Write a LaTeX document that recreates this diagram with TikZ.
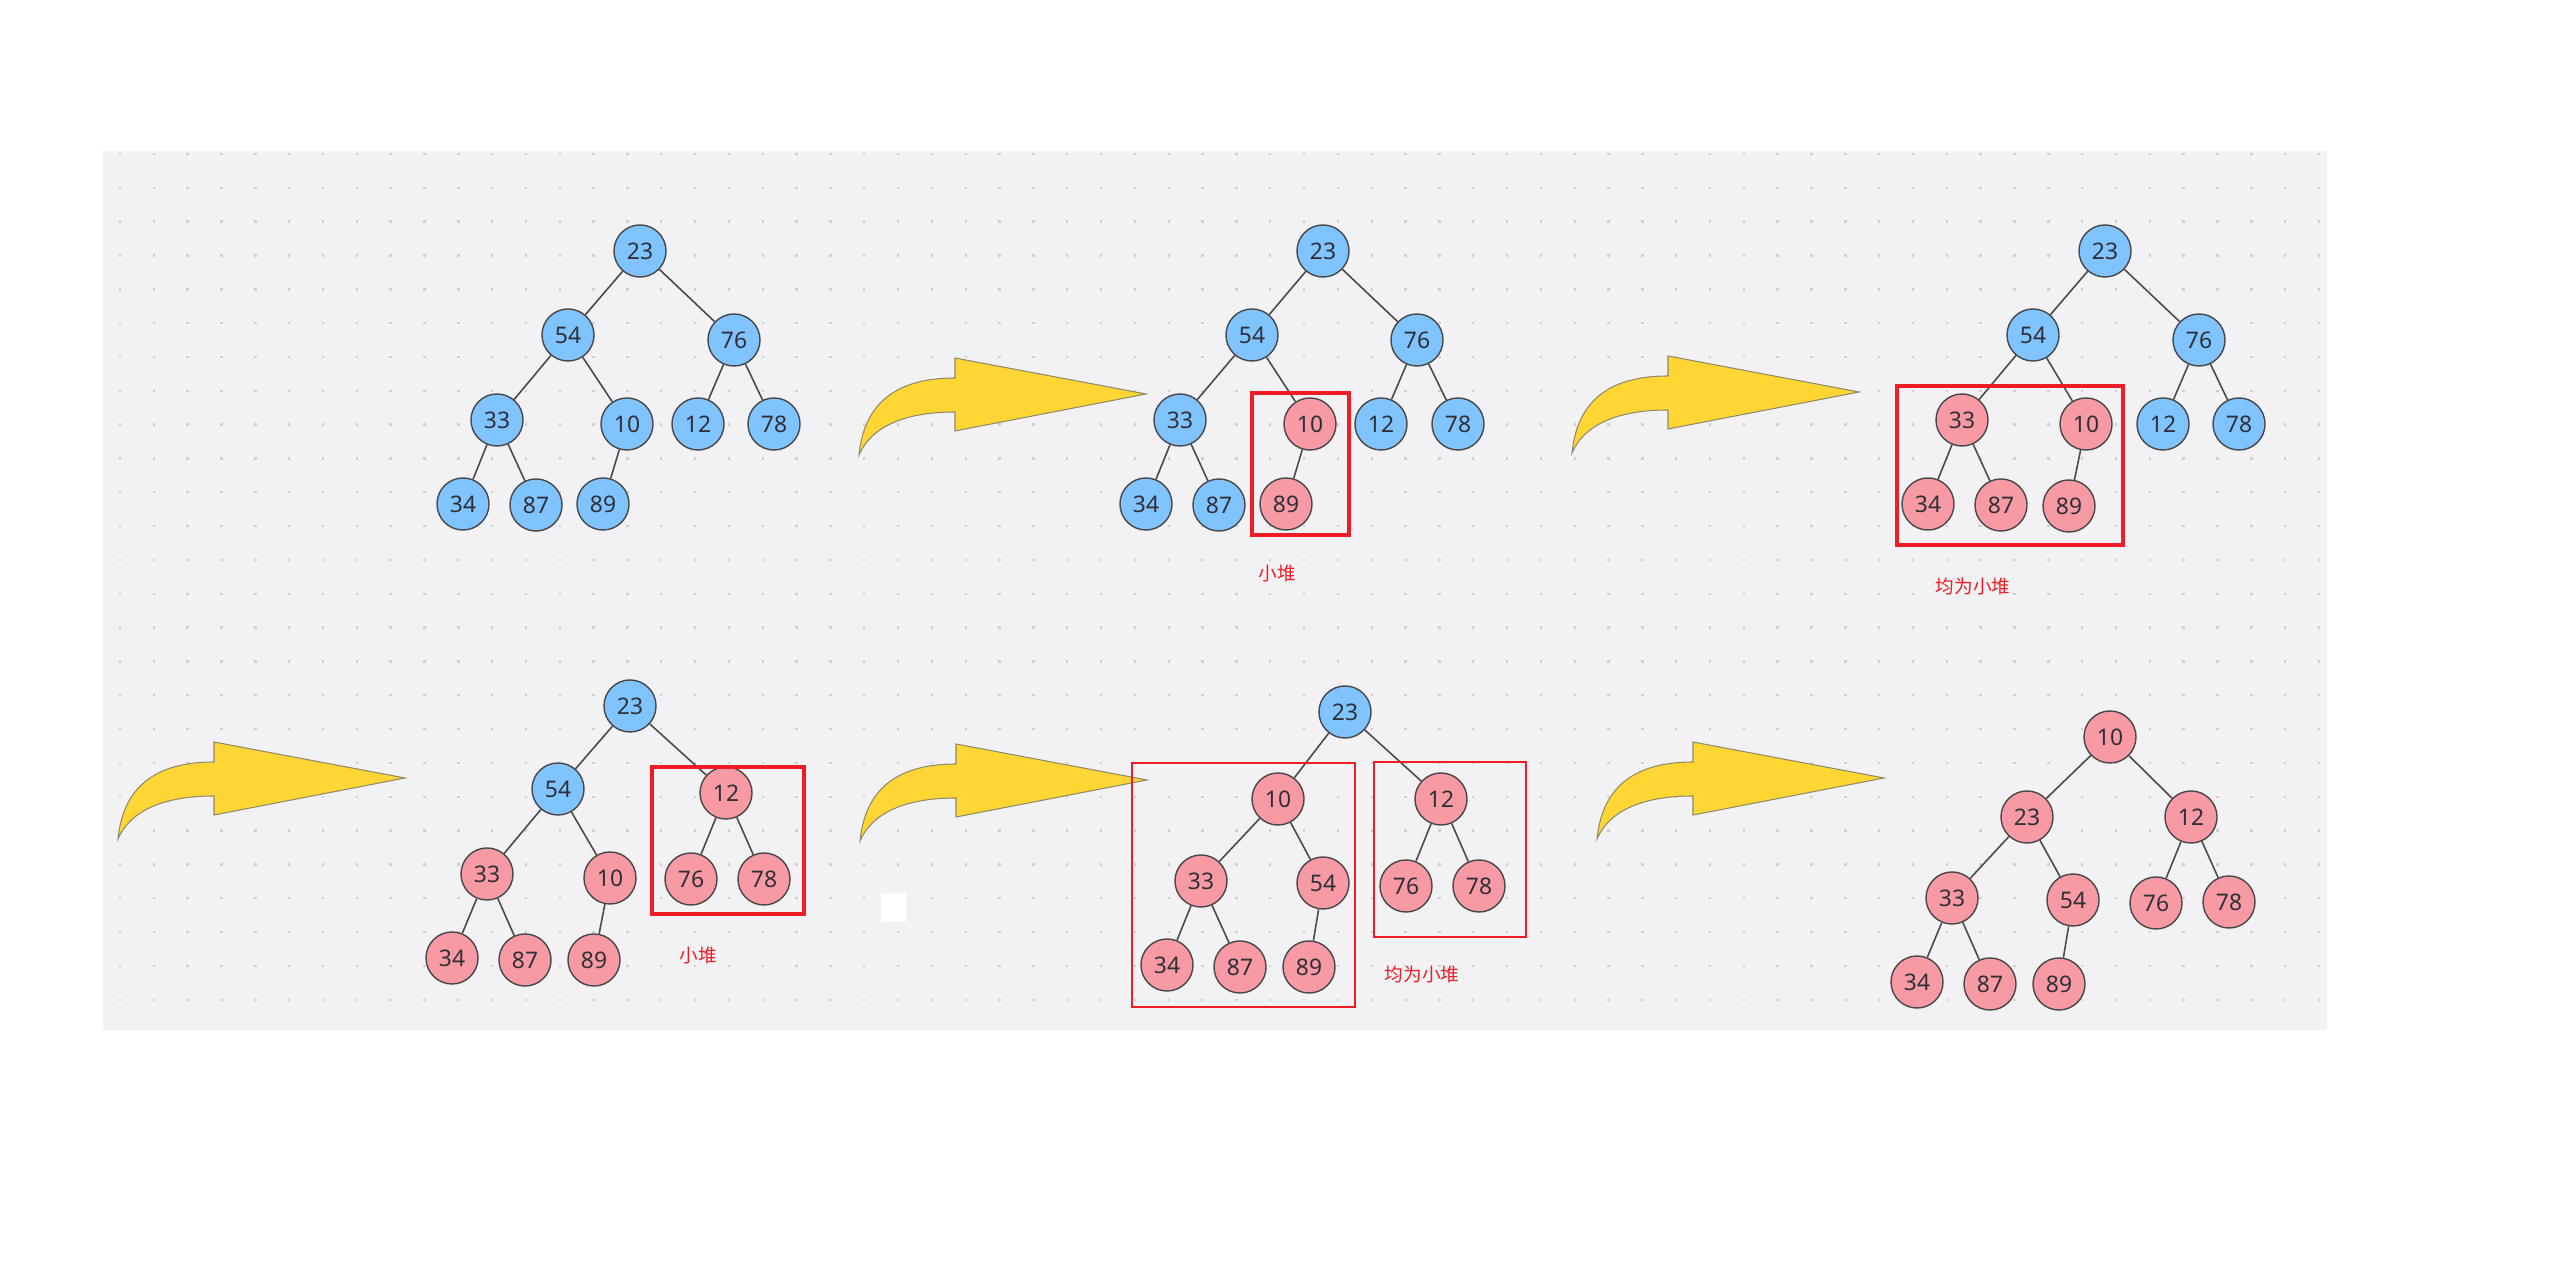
\documentclass[tikz,border=0pt]{standalone}
\usepackage{fontspec}
\setmainfont{Noto Sans}
\newfontfamily\cjk{Noto Sans CJK SC}
\usepackage{xcolor}
\definecolor{panelc}{HTML}{F2F2F4}
\definecolor{dotc}{HTML}{CFCFD2}
\definecolor{nblue}{HTML}{80C4FF}
\definecolor{npink}{HTML}{F89AA4}
\definecolor{ndraw}{HTML}{474747}
\definecolor{ntext}{HTML}{2F2F37}
\definecolor{linkc}{HTML}{4A4A4A}
\definecolor{boxred}{HTML}{EE1C25}
\definecolor{arrowy}{HTML}{FFD633}
\definecolor{arrowd}{HTML}{8F8A6A}

\begin{document}
\begin{tikzpicture}[x=0.01cm, y=-0.01cm,
    bluenode/.style={circle, draw=ndraw, fill=nblue, line width=0.4pt, minimum size=0.52cm, inner sep=0pt, text=ntext, font=\fontsize{6.5}{8}\selectfont},
    pinknode/.style={bluenode, fill=npink},
    link/.style={draw=linkc, line width=0.45pt},
    heapbox/.style={draw=boxred, line width=1.3pt},
    thinbox/.style={draw=boxred, line width=0.7pt},
    heaplabel/.style={text=boxred, font=\cjk\fontsize{5.3}{6}\selectfont, inner sep=0pt},
    bigarrow/.style={fill=arrowy, draw=arrowd, line width=0.3pt}]
  \useasboundingbox (0,0) rectangle (2560,1277);
  \fill[white] (0,0) rectangle (2560,1277);

  % dotted panel
  \fill[panelc] (103,151) rectangle (2327,1030);
  \foreach \i in {0,...,65}
    \foreach \j in {0,...,25}
      \fill[dotc] (120+\i*33.83-1.2, 154+\j*33.83-1.2) rectangle +(2.4,2.4);
  \fill[white] (881,893) rectangle (906,922);

  % yellow step arrows
  \foreach \ax/\ay in {859/455, 1572/453, 118/839, 860/841, 1597/839}
    \draw[bigarrow, shift={(\ax,\ay)}] (0,0) .. controls (5,-50) and (35,-77) .. (96,-77)
      -- (96,-97) -- (287,-61) -- (96,-24) -- (96,-43) .. controls (45,-43) and (12,-28) .. (0,0) -- cycle;

  % tree 1
  \foreach \t/\x/\y/\s in {23/640/251/bluenode, 54/568/335/bluenode, 76/734/340/bluenode,
      33/497/420/bluenode, 10/627/424/bluenode, 12/698/424/bluenode, 78/774/424/bluenode,
      34/463/504/bluenode, 87/536/505/bluenode, 89/603/504/bluenode}
    \node[\s] (a\t) at (\x,\y) {\t};
  % tree 2
  \foreach \t/\x/\y/\s in {23/1323/251/bluenode, 54/1252/335/bluenode, 76/1417/340/bluenode,
      33/1180/420/bluenode, 10/1310/424/pinknode, 12/1381/424/bluenode, 78/1458/424/bluenode,
      34/1146/504/bluenode, 87/1219/505/bluenode, 89/1286/504/pinknode}
    \node[\s] (b\t) at (\x,\y) {\t};
  % tree 3
  \foreach \t/\x/\y/\s in {23/2105/251/bluenode, 54/2033/335/bluenode, 76/2199/340/bluenode,
      33/1962/420/pinknode, 10/2086/424/pinknode, 12/2163/424/bluenode, 78/2239/424/bluenode,
      34/1928/504/pinknode, 87/2001/505/pinknode, 89/2069/506/pinknode}
    \node[\s] (c\t) at (\x,\y) {\t};
  \foreach \tr in {a,b,c}
    \foreach \p/\q in {23/54, 23/76, 54/33, 54/10, 76/12, 76/78, 33/34, 33/87, 10/89}
      \draw[link] (\tr\p) -- (\tr\q);

  % tree 4
  \foreach \t/\x/\y/\s in {23/630/706/bluenode, 54/558/789/bluenode, 12/726/793/pinknode,
      33/487/874/pinknode, 10/610/878/pinknode, 76/691/879/pinknode, 78/764/879/pinknode,
      34/452/958/pinknode, 87/525/960/pinknode, 89/594/960/pinknode}
    \node[\s] (d\t) at (\x,\y) {\t};
  \foreach \p/\q in {23/54, 23/12, 54/33, 54/10, 12/76, 12/78, 33/34, 33/87, 10/89}
    \draw[link] (d\p) -- (d\q);

  % tree 5
  \foreach \t/\x/\y/\s in {23/1345/712/bluenode, 10/1278/799/pinknode, 12/1441/799/pinknode,
      33/1201/881/pinknode, 54/1323/883/pinknode, 76/1406/886/pinknode, 78/1479/886/pinknode,
      34/1167/965/pinknode, 87/1240/967/pinknode, 89/1309/967/pinknode}
    \node[\s] (e\t) at (\x,\y) {\t};
  \foreach \p/\q in {23/10, 23/12, 10/33, 10/54, 12/76, 12/78, 33/34, 33/87, 54/89}
    \draw[link] (e\p) -- (e\q);

  % tree 6
  \foreach \t/\x/\y/\s in {10/2110/737/pinknode, 23/2027/817/pinknode, 12/2191/817/pinknode,
      33/1952/898/pinknode, 54/2073/900/pinknode, 76/2156/903/pinknode, 78/2229/902/pinknode,
      34/1917/982/pinknode, 87/1990/984/pinknode, 89/2059/984/pinknode}
    \node[\s] (f\t) at (\x,\y) {\t};
  \foreach \p/\q in {10/23, 10/12, 23/33, 23/54, 12/76, 12/78, 33/34, 33/87, 54/89}
    \draw[link] (f\p) -- (f\q);

  % sub-heap boxes and notes
  \draw[heapbox] (1252,393) rectangle (1349,535);
  \draw[heapbox] (1897,386) rectangle (2123,545);
  \draw[heapbox] (652,767) rectangle (804,914);
  \draw[thinbox] (1132,763) rectangle (1355,1007);
  \draw[thinbox] (1374,762) rectangle (1526,937);
  \node[heaplabel] (note2) at (1277,573) {小堆};
  \node[heaplabel] (note3) at (1973,586) {均为小堆};
  \node[heaplabel] (note4) at (698,955) {小堆};
  \node[heaplabel] (note5) at (1422,974) {均为小堆};
\end{tikzpicture}
\end{document}
